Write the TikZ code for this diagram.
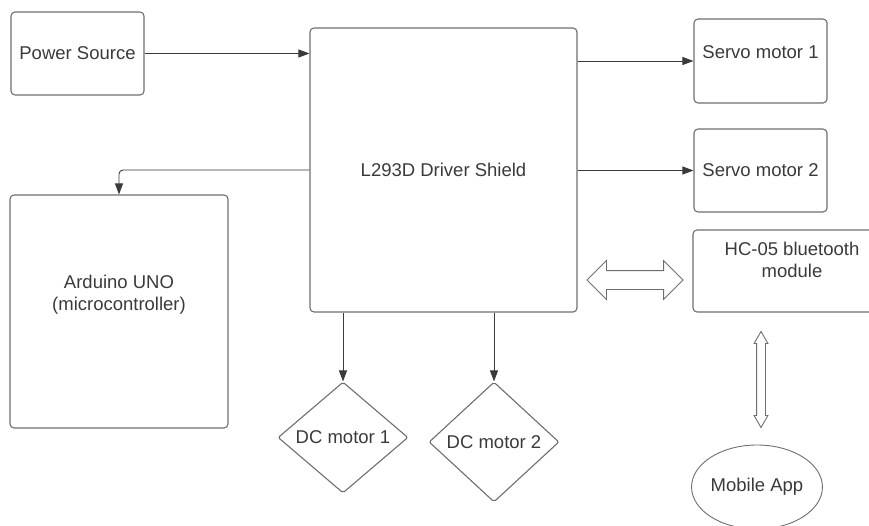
\documentclass[tikz,border=0pt]{standalone}
\usepackage{fontspec}
\setmainfont{Liberation Sans}
\usetikzlibrary{arrows.meta,shapes.geometric,shapes.arrows}
\definecolor{edgegray}{HTML}{6E6E6E}
\definecolor{inkgray}{HTML}{3A3A3A}
\begin{document}
\begin{tikzpicture}[x=1pt, y=-1pt,
    every node/.style={font=\fontsize{18.5}{22}\selectfont, text=inkgray},
    box/.style={draw=edgegray, line width=1.1pt, rounded corners=4pt, inner sep=0pt, align=center},
    lift/.style={text depth=#1},
    dcmotor/.style={diamond, draw=edgegray, line width=1.1pt, inner sep=0pt, rounded corners=2pt},
    link/.style={draw=inkgray, line width=0.9pt, -{Triangle[length=11pt, width=8pt]}},
    twoway/.style={double arrow, draw=edgegray, line width=0.9pt, fill=white}]

    \useasboundingbox (0,0) rectangle (869,525);
    \clip (0,0) rectangle (869,525);

    % blocks
    \node[box, minimum width=133, minimum height=83] (power) at (77.5,53.5) {Power Source};
    \node[box, minimum width=267, minimum height=284] (shield) at (443.5,170) {L293D Driver Shield};
    \node[box, lift=18pt, minimum width=133, minimum height=84] (servoA) at (760.5,61) {Servo motor 1};
    \node[box, minimum width=133, minimum height=83] (servoB) at (760.5,170.5) {Servo motor 2};
    \node[box, lift=22pt, minimum width=198, minimum height=82] (hc) at (792,271) {HC-05 bluetooth\\module};
    \node[box, lift=38pt, minimum width=218, minimum height=233] (arduino) at (119,311.5) {Arduino UNO\\(microcontroller)};

    % motors and app
    \node[dcmotor, minimum width=130, minimum height=111] (dcA) at (343,437.5) {DC motor 1};
    \node[dcmotor, minimum width=130, minimum height=120] (dcB) at (494,442) {DC motor 2};
    \node[ellipse, draw=edgegray, line width=0.9pt, minimum width=120, minimum height=84, inner sep=0pt] (app) at (757,487) {Mobile App};

    % wired links
    \draw[link] (power.east) -- (power.east -| shield.west);
    \draw[link, rounded corners=4pt] (shield.west) -| (arduino.north);
    \draw[link] (shield.east |- servoA.west) -- (servoA.west);
    \draw[link] (shield.east |- servoB.west) -- (servoB.west);
    \draw[link] (dcA.north |- shield.south) -- (dcA.north);
    \draw[link] (dcB.north |- shield.south) -- (dcB.north);

    % wireless links
    \node[twoway, inner sep=9pt, minimum height=96, double arrow head extend=10pt] (btlink) at (635,280) {};
    \node[twoway, shape border rotate=90, inner sep=4pt, minimum height=96, double arrow head extend=2.5pt, double arrow tip angle=60] (applink) at (761,379.5) {};

\end{tikzpicture}
\end{document}
